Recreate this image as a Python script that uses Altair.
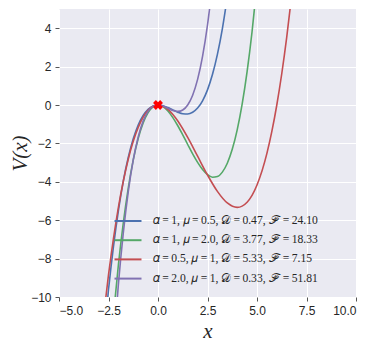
import altair as alt
import pandas as pd

T = "\u2009"
labels = [
    f"𝛼{T}={T}1, 𝜇{T}={T}0.5, 𝒟{T}={T}0.47, ℱ{T}={T}24.10",
    f"𝛼{T}={T}1, 𝜇{T}={T}2.0, 𝒟{T}={T}3.77, ℱ{T}={T}18.33",
    f"𝛼{T}={T}0.5, 𝜇{T}={T}1, 𝒟{T}={T}5.33, ℱ{T}={T}7.15",
    f"𝛼{T}={T}2.0, 𝜇{T}={T}1, 𝒟{T}={T}0.33, ℱ{T}={T}51.81",
]
colors = ["#4C72B0", "#55A868", "#C44E52", "#8172B2"]

blue_x = [-2.75, -2.5, -2.25, -2.0, -1.75, -1.5, -1.25, -1.0, -0.75, -0.5, -0.25, 0.0,
          0.25, 0.5, 0.75, 1.0, 1.25, 1.5, 1.75, 2.0, 2.25, 2.5, 2.75, 3.0, 3.25, 3.5]
blue_y = [-12.28, -9.63, -7.38, -5.50, -3.95, -2.72, -1.76, -1.04, -0.54, -0.22, -0.05, 0.0,
          -0.039, -0.135, -0.257, -0.374, -0.454, -0.466, -0.379, -0.161, 0.217, 0.789, 1.584,
          2.636, 3.97, 5.63]

green_x = [-2.5, -2.25, -2.0, -1.75, -1.5, -1.25, -1.0, -0.75, -0.5, -0.25, 0.0,
           0.25, 0.5, 0.75, 1.0, 1.25, 1.5, 1.75, 2.0, 2.25, 2.5, 2.75, 3.0, 3.25, 3.5,
           3.75, 4.0, 4.25, 4.5, 4.75, 5.0]
green_y = [-14.05, -10.96, -8.32, -6.12, -4.31, -2.86, -1.75, -0.94, -0.40, -0.09, 0.0,
           -0.083, -0.312, -0.655, -1.081, -1.559, -2.057, -2.545, -2.990, -3.362, -3.631,
           -3.763, -3.728, -3.495, -3.032, -2.309, -1.294, 0.045, 1.737, 3.816, 6.31]

red_x = [-2.75, -2.5, -2.25, -2.0, -1.75, -1.5, -1.25, -1.0, -0.75, -0.5, -0.25, 0.0,
         0.25, 0.5, 1.0, 1.5, 2.0, 2.5, 3.0, 3.5, 4.0, 4.5, 5.0, 5.5, 5.75, 6.0, 6.25,
         6.5, 6.75]
red_y = [-11.03, -8.85, -6.96, -5.33, -3.96, -2.81, -1.89, -1.17, -0.63, -0.27, -0.065, 0.0,
         -0.060, -0.229, -0.833, -1.6875, -2.667, -3.646, -4.5, -5.104, -5.333, -5.0625,
         -4.167, -2.521, -1.378, 0.0, 1.628, 3.521, 5.70]

purple_x = [-2.25, -2.0, -1.75, -1.5, -1.25, -1.0, -0.75, -0.5, -0.25, 0.0,
            0.25, 0.5, 0.75, 1.0, 1.25, 1.5, 1.75, 2.0, 2.25, 2.5, 2.75]
purple_y = [-12.66, -9.33, -6.64, -4.5, -2.86, -1.67, -0.84, -0.33, -0.073, 0.0,
            -0.052, -0.167, -0.281, -0.333, -0.260, 0.0, 0.510, 1.333, 2.531, 4.167, 6.30]

marker_x = [0.0]
marker_y = [0.0]

x_ticks = [-5.0, -2.5, 0.0, 2.5, 5.0, 7.5, 10.0]
y_ticks = [-10, -8, -6, -4, -2, 0, 2, 4]

series = [(blue_x, blue_y), (green_x, green_y), (red_x, red_y), (purple_x, purple_y)]

xscale = alt.Scale(domain=[-5, 10], nice=False, zero=False)
yscale = alt.Scale(domain=[-10, 5], nice=False, zero=False)

xaxis = alt.Axis(values=x_ticks, format=".1f", title="x", grid=True)
yaxis = alt.Axis(values=y_ticks, format="d", title="V(x)", grid=True,
                 titleX=-39, titleBaseline="middle")

color_scale = alt.Scale(domain=labels, range=colors)
legend = alt.Legend(
    title=None, orient="none", legendX=61, legendY=204,
    symbolType="M-2,0H2", symbolSize=182, symbolStrokeWidth=2,
    labelFont="Liberation Serif", labelFontSize=11.6, labelColor="#262626",
    labelLimit=400, labelOffset=17, rowPadding=5.2, fillColor=None, padding=0,
)

layers = []
for i, (xs, ys) in enumerate(series):
    df = pd.DataFrame({"x": xs, "y": ys, "s": labels[i]})
    layers.append(
        alt.Chart(df).mark_line(interpolate="monotone", strokeWidth=1.6, clip=True).encode(
            x=alt.X("x:Q", scale=xscale, axis=xaxis),
            y=alt.Y("y:Q", scale=yscale, axis=yaxis),
            color=alt.Color("s:N", scale=color_scale, legend=legend, sort=labels),
        )
    )

mdf = pd.DataFrame({"x": marker_x, "y": marker_y})
layers.append(
    alt.Chart(mdf).mark_point(shape="cross", filled=True, size=100, angle=45,
                              color="#FF0000", opacity=1).encode(
        x=alt.X("x:Q", scale=xscale), y=alt.Y("y:Q", scale=yscale)
    )
)

chart = alt.layer(*layers).properties(
    width=297, height=288,
    autosize=alt.AutoSizeParams(type="none"),
    padding={"left": 51, "top": 1, "right": 10, "bottom": 47},
    background="white",
).configure_view(
    fill="#EAEAF2", stroke=None
).configure_axis(
    gridColor="white", gridWidth=1, domain=False,
    tickColor="#555555", tickSize=4, tickWidth=1,
    labelFont="Liberation Sans", labelFontSize=12, labelColor="#262626",
    labelPadding=4,
    titleFont="Liberation Serif", titleFontStyle="italic", titleFontWeight="normal",
    titleFontSize=21, titleColor="#262626",
).configure_axisX(
    titlePadding=4,
)

chart.save("out.html", embed_options={"renderer": "svg", "actions": False})
